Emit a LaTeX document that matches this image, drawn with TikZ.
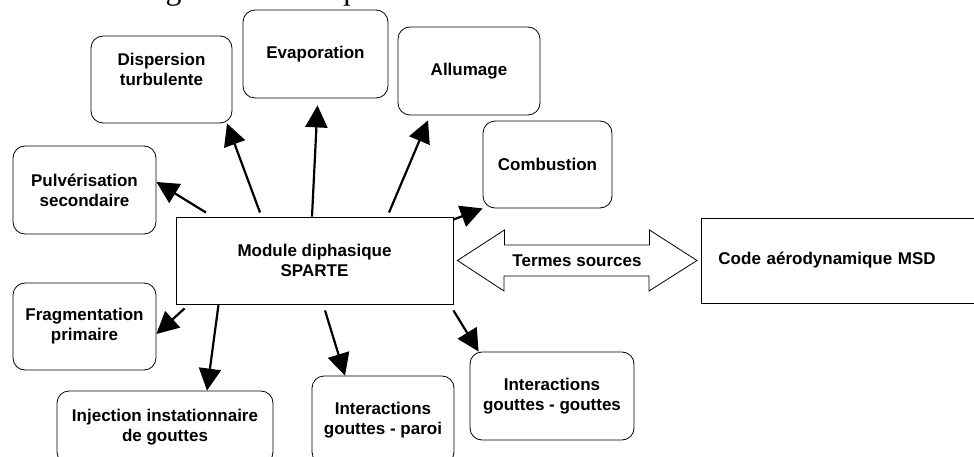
\documentclass[tikz,border=0pt]{standalone}
\usepackage{fontspec}
\setmainfont{Liberation Serif}
\setsansfont{Liberation Sans}
\usetikzlibrary{arrows.meta}

\tikzset{
    boite/.style={draw, rounded corners=12pt, line width=0.8pt, align=center, inner sep=0pt,
        font=\sffamily\bfseries\fontsize{17}{20}\selectfont},
    carre/.style={draw, line width=0.9pt, align=center, inner sep=0pt,
        font=\sffamily\bfseries\fontsize{17}{20}\selectfont},
    fleche/.style={-{Triangle[length=22pt, width=22pt]}, line width=2.2pt},
}

\begin{document}
\begin{tikzpicture}[x=1pt, y=-1pt]
    \useasboundingbox (0,0) rectangle (974,457);

    % texte coupé en haut
    \node[font=\fontsize{31.7}{36}\selectfont, anchor=base east, inner sep=0pt] (intro) at (708,0)
        {ement d'une goutte isolée qui est directement utilisable.};

    % module central
    \node[carre, minimum width=277, minimum height=87] (module) at (314.5,260.5) {Module diphasique\\SPARTE};

    % phénomènes
    \node[boite, minimum width=141, minimum height=87,
        label={[font=\sffamily\bfseries\fontsize{17}{20}\selectfont, align=center, yshift=10pt]center:{Dispersion\\turbulente}}]
        (disp) at (161.5,79.5) {};
    \node[boite, minimum width=145, minimum height=88] (evap) at (315.5,54) {Evaporation};
    \node[boite, minimum width=142, minimum height=88] (allum) at (469,71) {Allumage};
    \node[boite, minimum width=129, minimum height=87] (comb) at (547.5,164.5) {Combustion};
    \node[boite, minimum width=143, minimum height=88] (pulv) at (84.5,190) {Pulvérisation\\secondaire};
    \node[boite, minimum width=143, minimum height=87] (frag) at (84.5,326.5) {Fragmentation\\primaire};
    \node[boite, minimum width=216, minimum height=73] (inj) at (165,427.5) {Injection instationnaire\\de gouttes};
    \node[boite, minimum width=142, minimum height=88] (paroi) at (383,420) {Interactions\\gouttes - paroi};
    \node[boite, minimum width=164, minimum height=88] (ggout) at (552,396) {Interactions\\gouttes - gouttes};

    % code aérodynamique
    \node[carre, anchor=west, minimum height=85, inner xsep=17pt, text width=256, align=left] (code) at (701,260.5)
        {Code aérodynamique MSD};

    % couplage
    \node[font=\sffamily\bfseries\fontsize{17}{20}\selectfont, inner sep=0pt] (src) at (577,261) {Termes sources};
    \draw[line width=0.8pt] ([xshift=4pt]module.east) -- ++(47,-30.5) -- ++(0,15) -- ++(145,0) -- ++(0,-15)
        -- ([xshift=-4pt]code.west) -- ++(-48,30.5) -- ++(0,-15) -- ++(-145,0) -- ++(0,15) -- cycle;

    % flèches
    \draw[fleche] ([xshift=-108.5pt, yshift=4pt]module.north) -- ([yshift=8pt]pulv.east);
    \draw[fleche] ([xshift=-54.5pt, yshift=4pt]module.north) -- ([xshift=65.5pt]disp.south);
    \draw[fleche] ([xshift=-2.5pt]module.north) -- ([xshift=2pt, yshift=-7pt]evap.south);
    \draw[fleche] ([xshift=74.5pt, yshift=4pt]module.north) -- ([xshift=-41pt, yshift=-5pt]allum.south);
    \draw[fleche] ([yshift=-3pt]module.north east) -- (comb.south west);
    \draw[fleche] ([xshift=9pt, yshift=-4pt]module.south west) -- ([yshift=-7.5pt]frag.east);
    \draw[fleche] ([xshift=43pt]module.south west) -- ([xshift=42pt]inj.north);
    \draw[fleche] ([xshift=10.5pt, yshift=-6pt]module.south) -- ([xshift=-38pt]paroi.north);
    \draw[fleche] ([yshift=-6pt]module.south east) -- ([xshift=9pt]ggout.north west);
\end{tikzpicture}
\end{document}
